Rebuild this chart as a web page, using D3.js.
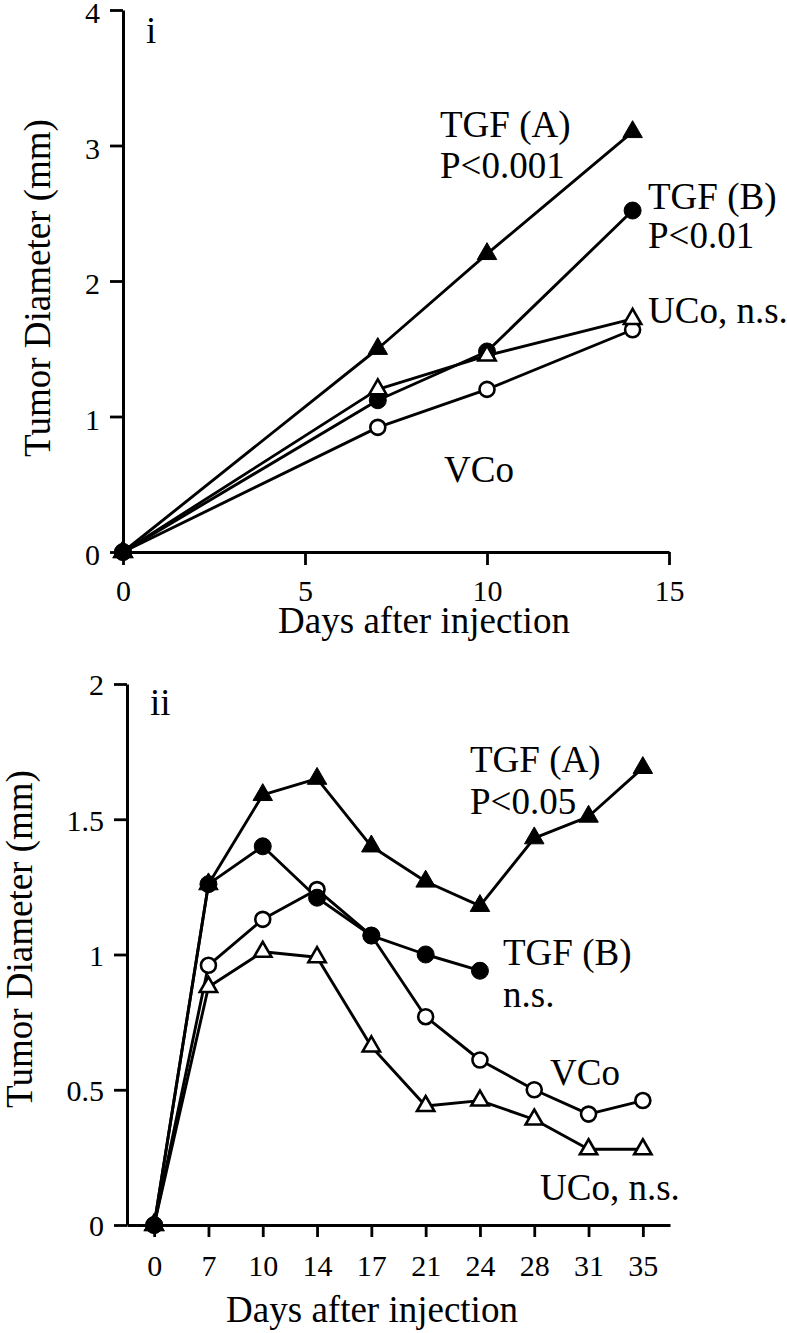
<!DOCTYPE html>
<html>
<head>
<meta charset="utf-8">
<script src="https://cdn.jsdelivr.net/npm/d3@7"></script>
<style>
  html, body { margin: 0; padding: 0; background: #fff; }
  svg { display: block; }
  text { font-family: "Liberation Serif", "Times New Roman", serif; fill: #000; }
</style>
</head>
<body>
<svg id="chart" width="787" height="1333"></svg>
<script>
// ---------- Panel i data ----------
const daysI = [0, 7, 10, 14];
const tgfA_I = [0, 1.50, 2.20, 3.10];
const tgfB_I = [0, 1.12, 1.48, 2.52];
const uco_I  = [0, 1.20, 1.45, 1.72];
const vco_I  = [0, 0.92, 1.20, 1.64];
const xTicksI = [0, 5, 10, 15];
const yTicksI = [0, 1, 2, 3, 4];

// ---------- Panel ii data ----------
const daysII = ["0", "7", "10", "14", "17", "21", "24", "28", "31", "35"];
const tgfA_II = [0, 1.26, 1.59, 1.65, 1.40, 1.27, 1.18, 1.43, 1.51, 1.69];
const tgfB_II = [0, 1.26, 1.40, 1.21, 1.07, 1.00, 0.94];
const vco_II  = [0, 0.96, 1.13, 1.24, 1.07, 0.77, 0.61, 0.50, 0.41, 0.46];
const uco_II  = [0, 0.88, 1.01, 0.99, 0.66, 0.44, 0.46, 0.39, 0.28, 0.28];
const yTicksII = [0, 0.5, 1, 1.5, 2];

const FONT = '"Liberation Serif", "Times New Roman", serif';
const svg = d3.select("#chart");
const LW = 2.9;

function styleAxis(g, dy) {
  g.attr("font-family", FONT);
  g.selectAll("path.domain").attr("stroke", "#000").attr("stroke-width", 3);
  g.selectAll(".tick line").attr("stroke", "#000").attr("stroke-width", 2.8);
  const t = g.selectAll(".tick text").attr("font-family", FONT).attr("font-size", 30).attr("fill", "#000");
  if (dy) t.attr("dy", dy);
}

function drawSeries(xs, ys, xScale, yScale, marker) {
  const pts = ys.map((v, i) => [xScale(xs[i]), yScale(v)]);
  return { pts, marker };
}

function renderPanel(g, seriesList) {
  const line = d3.line();
  seriesList.forEach(s => {
    g.append("path").attr("d", line(s.pts)).attr("fill", "none")
      .attr("stroke", "#000").attr("stroke-width", LW).attr("stroke-linejoin", "round");
  });
  seriesList.forEach(s => {
    s.pts.forEach(p => {
      if (s.marker === "triFilled" || s.marker === "triOpen") {
        g.append("path")
          .attr("d", d3.symbol().type(d3.symbolTriangle).size(s.marker === "triFilled" ? 165 : 130)())
          .attr("transform", `translate(${p[0]},${p[1]})`)
          .attr("fill", s.marker === "triFilled" ? "#000" : "#fff")
          .attr("stroke", "#000").attr("stroke-width", s.marker === "triFilled" ? 1 : 2.6);
      } else {
        g.append("circle").attr("cx", p[0]).attr("cy", p[1])
          .attr("r", s.marker === "circFilled" ? 8.5 : 7.5)
          .attr("fill", s.marker === "circFilled" ? "#000" : "#fff")
          .attr("stroke", "#000").attr("stroke-width", s.marker === "circFilled" ? 1 : 2.6);
      }
    });
  });
}

function label(x, y, txt, size) {
  svg.append("text").attr("x", x).attr("y", y)
    .attr("font-family", FONT).attr("font-size", size || 37).text(txt);
}

// ---------- Panel i ----------
const xI = d3.scaleLinear().domain([0, 15]).range([123, 669]);
const yI = d3.scaleLinear().domain([0, 4]).range([552, 10]);

const gI = svg.append("g");
const axXI = gI.append("g").attr("transform", `translate(0,${yI(0)})`)
  .call(d3.axisBottom(xI).tickValues(xTicksI).tickFormat(d3.format("d")).tickSize(13).tickSizeOuter(0).tickPadding(15));
styleAxis(axXI);
const axYI = gI.append("g").attr("transform", `translate(${xI(0)},0)`)
  .call(d3.axisLeft(yI).tickValues(yTicksI).tickFormat(d3.format("d")).tickSize(13).tickSizeOuter(0).tickPadding(10));
styleAxis(axYI, "0.42em");

renderPanel(gI, [
  drawSeries(daysI, vco_I, xI, yI, "circOpen"),
  drawSeries(daysI, tgfB_I, xI, yI, "circFilled"),
  drawSeries(daysI, uco_I, xI, yI, "triOpen"),
  drawSeries(daysI, tgfA_I, xI, yI, "triFilled")
]);

label(146, 43, "i");
label(440, 137, "TGF (A)");
label(440, 178, "P<0.001");
label(648, 209, "TGF (B)");
label(648, 248, "P<0.01");
label(648, 323, "UCo, n.s.");
label(444, 482, "VCo");
svg.append("text").attr("transform", "translate(50,288) rotate(-90)")
  .attr("font-family", FONT).attr("text-anchor", "middle").attr("font-size", 37).text("Tumor Diameter (mm)");
svg.append("text").attr("x", 424).attr("y", 633)
  .attr("font-family", FONT).attr("text-anchor", "middle").attr("font-size", 37).text("Days after injection");

// ---------- Panel ii ----------
const xII = d3.scalePoint().domain(daysII).range([127, 670]).padding(0.5);
const yII = d3.scaleLinear().domain([0, 2]).range([1225, 684]);

const gII = svg.append("g");
const axXII = gII.append("g").attr("transform", `translate(0,${yII(0)})`)
  .call(d3.axisBottom(xII).tickSize(12).tickSizeOuter(0).tickPadding(18));
styleAxis(axXII);
const axYII = gII.append("g").attr("transform", `translate(127,0)`)
  .call(d3.axisLeft(yII).tickValues(yTicksII).tickFormat(d => String(d)).tickSize(13).tickSizeOuter(0).tickPadding(10));
styleAxis(axYII, "0.36em");

renderPanel(gII, [
  drawSeries(daysII, uco_II, xII, yII, "triOpen"),
  drawSeries(daysII, vco_II, xII, yII, "circOpen"),
  drawSeries(daysII.slice(0, tgfB_II.length), tgfB_II, xII, yII, "circFilled"),
  drawSeries(daysII, tgfA_II, xII, yII, "triFilled")
]);

label(150, 715, "ii");
label(470, 772, "TGF (A)");
label(470, 814, "P<0.05");
label(503, 965, "TGF (B)");
label(503, 1007, "n.s.");
label(550, 1085, "VCo");
label(540, 1200, "UCo, n.s.");
svg.append("text").attr("transform", "translate(32,939) rotate(-90)")
  .attr("font-family", FONT).attr("text-anchor", "middle").attr("font-size", 37).text("Tumor Diameter (mm)");
svg.append("text").attr("x", 372).attr("y", 1322)
  .attr("font-family", FONT).attr("text-anchor", "middle").attr("font-size", 37).text("Days after injection");
</script>
</body>
</html>
